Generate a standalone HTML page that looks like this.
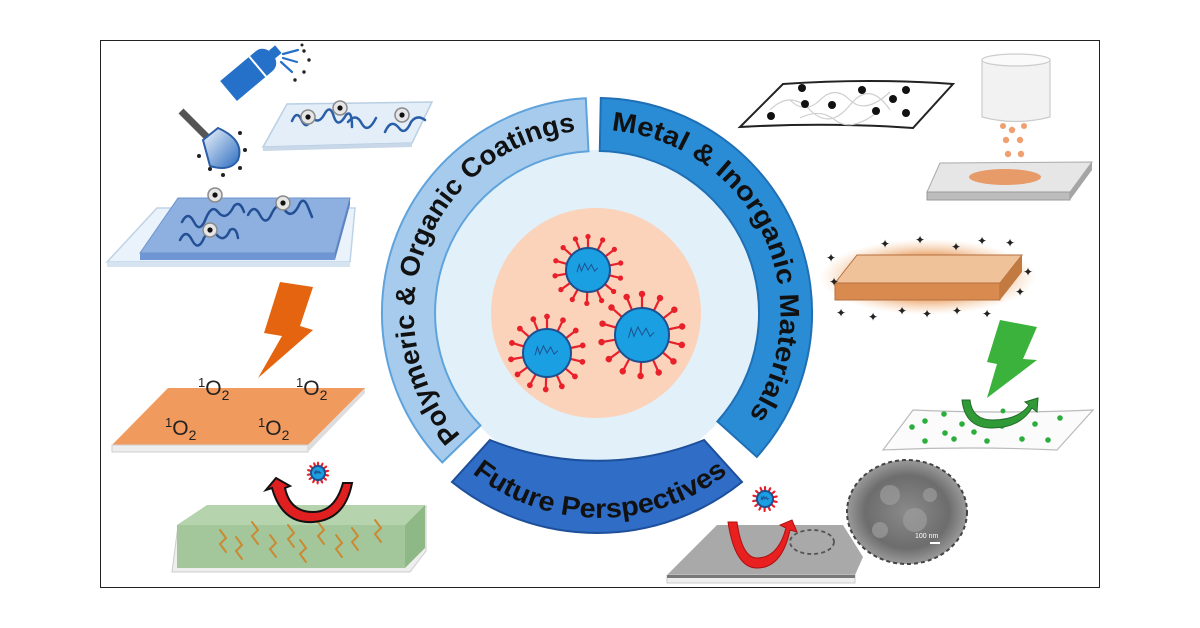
<!DOCTYPE html>
<html><head><meta charset="utf-8"><style>
html,body{margin:0;padding:0;background:#fff;}
svg{display:block;}
text{font-family:"Liberation Sans",Arial,sans-serif;}
</style></head><body>
<svg width="1200" height="628" viewBox="0 0 1200 628" xmlns="http://www.w3.org/2000/svg">
<defs>
  <g id="sp"><line x1="0" y1="-1" x2="0" y2="-1.5" stroke="#e8202a" stroke-width="2.2" vector-effect="non-scaling-stroke"/><circle cx="0" cy="-1.52" r="0.12" fill="#e8202a"/></g>
  <g id="virus">
    <use href="#sp"/><use href="#sp" transform="rotate(26)"/><use href="#sp" transform="rotate(52)"/><use href="#sp" transform="rotate(78)"/><use href="#sp" transform="rotate(104)"/><use href="#sp" transform="rotate(130)"/><use href="#sp" transform="rotate(156)"/><use href="#sp" transform="rotate(182)"/><use href="#sp" transform="rotate(208)"/><use href="#sp" transform="rotate(234)"/><use href="#sp" transform="rotate(260)"/><use href="#sp" transform="rotate(286)"/><use href="#sp" transform="rotate(312)"/><use href="#sp" transform="rotate(338)"/>
    <circle r="1" fill="#1aa0e2" stroke="#1f4f8f" stroke-width="2" vector-effect="non-scaling-stroke"/>
    <path d="M-0.5,0.1 L-0.4,-0.25 L-0.3,0.05 L-0.15,-0.3 L0,0 L0.15,-0.25 L0.3,0.05 L0.45,-0.1" fill="none" stroke="#1f4f8f" stroke-width="1" vector-effect="non-scaling-stroke"/>
  </g>
  <g id="dotc"><circle r="7" fill="#e6e6e6" stroke="#8a8a8a" stroke-width="1.5"/><circle r="2.6" fill="#111"/></g>
  <radialGradient id="glow" cx="0.5" cy="0.5" r="0.5"><stop offset="0.6" stop-color="#e89a5a" stop-opacity="0.8"/><stop offset="1" stop-color="#f5c9a0" stop-opacity="0"/></radialGradient>
  <radialGradient id="sem" cx="0.5" cy="0.5" r="0.5"><stop offset="0" stop-color="#8a8a8a"/><stop offset="0.7" stop-color="#6d6d6d"/><stop offset="1" stop-color="#9a9a9a"/></radialGradient>
  <linearGradient id="brush" x1="0" y1="0" x2="1" y2="1"><stop offset="0" stop-color="#f4f8fc"/><stop offset="1" stop-color="#2a6cc0"/></linearGradient>
  <path id="tp1" d="M460.8,435.4 A183,183 0 0 1 581,130.7" fill="none"/>
  <path id="tp2" d="M611.3,130.6 A183,183 0 0 1 745.5,420.5" fill="none"/>
  <path id="tp3" d="M466,468 A205,205 0 0 0 734,468" fill="none"/>
</defs>

<rect x="100.5" y="40.5" width="999" height="547" fill="none" stroke="#222" stroke-width="1"/>

<!-- center -->
<circle cx="597" cy="313" r="163" fill="#e2f0fa"/>
<circle cx="596" cy="313" r="105" fill="#fbd2ba"/>
<use href="#virus" transform="translate(588,270) scale(22)"/>
<use href="#virus" transform="translate(547,353) scale(24)"/>
<use href="#virus" transform="translate(642,335) scale(27)"/>

<path d="M442.3,462.4 A215,215 0 0 1 585.8,98.3 L588.5,151.2 A162,162 0 0 0 480.5,425.5 Z" fill="#a7cbec" stroke="#5fa3dc" stroke-width="2"/>
<path d="M600.8,98 A215,215 0 0 1 756.8,456.9 L717.4,421.4 A162,162 0 0 0 599.8,151 Z" fill="#2b8cd6" stroke="#1f6fb5" stroke-width="2"/>
<path d="M452,482 A231.6,231.6 0 0 0 742,482 L704,440 A286,286 0 0 1 490,440 Z" fill="#2f6dc7" stroke="#1d4f9a" stroke-width="2"/>

<text font-size="27" font-weight="bold" fill="#111"><textPath href="#tp1" textLength="400" lengthAdjust="spacingAndGlyphs">Polymeric &amp; Organic Coatings</textPath></text>
<text font-size="27" font-weight="bold" fill="#111"><textPath href="#tp2" textLength="382" lengthAdjust="spacingAndGlyphs">Metal &amp; Inorganic Materials</textPath></text>
<text font-size="27" font-weight="bold" fill="#111"><textPath href="#tp3" startOffset="8" textLength="276" lengthAdjust="spacingAndGlyphs">Future Perspectives</textPath></text>

<!-- left top: spray can -->
<g transform="translate(250,73) rotate(-40)">
  <path d="M-28,-13 L18,-13 Q28,-13 30,0 Q28,13 18,13 L-28,13 Z" fill="#2570c8"/>
  <line x1="10" y1="-13" x2="10" y2="13" stroke="#fff" stroke-width="2"/>
  <rect x="29" y="-5" width="8" height="10" fill="#2570c8"/>
</g>
<g stroke="#2570c8" stroke-width="2.2" stroke-linecap="round">
  <line x1="283" y1="54" x2="298" y2="50"/><line x1="283" y1="58" x2="297" y2="62"/><line x1="281" y1="62" x2="292" y2="72"/>
</g>
<g fill="#222"><circle cx="304" cy="51" r="1.7"/><circle cx="309" cy="60" r="1.7"/><circle cx="304" cy="72" r="1.7"/><circle cx="295" cy="80" r="1.7"/><circle cx="302" cy="45" r="1.5"/></g>
<!-- brush -->
<line x1="181" y1="111" x2="211" y2="141" stroke="#555" stroke-width="7"/>
<path d="M203,140 L218,128 Q245,140 238,160 Q230,172 210,166 Z" fill="url(#brush)" stroke="#2a5fa8" stroke-width="2"/>
<g fill="#222"><circle cx="199" cy="156" r="2"/><circle cx="210" cy="169" r="2"/><circle cx="223" cy="175" r="2"/><circle cx="240" cy="168" r="2"/><circle cx="245" cy="150" r="2"/><circle cx="240" cy="133" r="2"/></g>
<!-- top slide -->
<path d="M263,147 L287,104 L432,102 L412,143 Z" fill="#e4eef9" stroke="#b9cfe3" stroke-width="1.5"/>
<path d="M263,147 L412,143 L412,147 L263,151 Z" fill="#c8d8e8"/>
<g fill="none" stroke="#2a5fa8" stroke-width="2.5" stroke-linecap="round">
  <path d="M292,121 q5,-12 10,0 q5,10 10,-4 q6,8 12,-2 q6,-12 10,2 q4,12 12,-2 q6,-6 6,12"/>
  <path d="M348,122 q8,-10 14,2 q6,10 14,-6"/>
  <path d="M385,132 q6,-14 14,-4 q6,8 12,-6 q6,-8 14,-2"/>
</g>
<use href="#dotc" transform="translate(308,117)"/>
<use href="#dotc" transform="translate(340,108)"/>
<use href="#dotc" transform="translate(402,115)"/>
<!-- bottom slide -->
<path d="M107,262 L157,208 L355,208 L350,262 Z" fill="#eaf2fb" stroke="#bfd3e6" stroke-width="1.5"/>
<path d="M107,262 L350,262 L350,267 L107,267 Z" fill="#d6e3f0"/>
<path d="M140,253 L178,198 L350,198 L335,253 Z" fill="#8eb0e0" stroke="#6d93cc" stroke-width="1"/>
<path d="M140,253 L335,253 L335,260 L140,260 Z" fill="#6f96d2"/>
<path d="M335,253 L350,198 L350,205 L335,260 Z" fill="#5c84c2"/>
<g fill="none" stroke="#234f94" stroke-width="2.5" stroke-linecap="round">
  <path d="M182,222 q6,-12 12,0 q6,12 12,-4 q6,-14 12,-6 q8,10 16,-6 q6,-6 10,6"/>
  <path d="M248,215 q6,-12 12,0 q6,12 12,-2 q6,-12 12,-4 q8,12 16,-6 q4,-6 8,4 l4,10"/>
  <path d="M180,240 q6,-12 12,0 q6,12 12,-2 q6,-12 12,-4 q8,10 14,-4 q6,-4 8,8"/>
</g>
<use href="#dotc" transform="translate(215,195)"/>
<use href="#dotc" transform="translate(283,203)"/>
<use href="#dotc" transform="translate(210,230)"/>

<!-- left middle: orange slab -->
<polygon points="280,282 313,287 300,326 313,330 258,378 282,336 264,333" fill="#e5640f"/>
<path d="M112,445 L168,388 L365,388 L308,445 Z" fill="#f19a5e"/>
<path d="M112,445 L308,445 L308,452 L112,452 Z" fill="#eeeeee" stroke="#cfcfcf" stroke-width="1"/>
<path d="M308,445 L365,388 L365,393 L308,452 Z" fill="#dddddd"/>
<g font-size="21" fill="#222">
  <text x="198" y="395"><tspan font-size="13" dy="-8">1</tspan><tspan dy="8">O</tspan><tspan font-size="14" dy="5">2</tspan></text>
  <text x="296" y="395"><tspan font-size="13" dy="-8">1</tspan><tspan dy="8">O</tspan><tspan font-size="14" dy="5">2</tspan></text>
  <text x="165" y="435"><tspan font-size="13" dy="-8">1</tspan><tspan dy="8">O</tspan><tspan font-size="14" dy="5">2</tspan></text>
  <text x="258" y="435"><tspan font-size="13" dy="-8">1</tspan><tspan dy="8">O</tspan><tspan font-size="14" dy="5">2</tspan></text>
</g>

<!-- left bottom: green slab -->
<path d="M172,572 L178,525 L410,525 L426,506 L426,551 L410,572 Z" fill="#eeeeee" stroke="#cccccc" stroke-width="1"/>
<path d="M177,525 L207,505 L425,505 L405,525 Z" fill="#b5d3ad"/>
<rect x="177" y="525" width="228" height="43" fill="#a3c79b"/>
<path d="M405,525 L425,505 L425,548 L405,568 Z" fill="#8fb887"/>
<g fill="none" stroke="#c98a33" stroke-width="2" stroke-linecap="round">
  <path d="M220,530 l6,8 l-6,6 l6,8"/><path d="M236,537 l6,8 l-6,6 l6,8"/><path d="M252,522 l6,8 l-6,6 l6,8"/><path d="M270,535 l6,8 l-6,6 l6,8"/><path d="M288,525 l6,8 l-6,6 l6,8"/><path d="M300,540 l6,8 l-6,6 l6,8"/><path d="M318,522 l6,8 l-6,6 l6,8"/><path d="M336,535 l6,8 l-6,6 l6,8"/><path d="M352,528 l6,8 l-6,6 l6,8"/><path d="M375,520 l6,8 l-6,6 l6,8"/>
</g>
<path d="M272,488 Q282,524 313,522 Q345,520 352,483 L343,483 Q335,512 313,512 Q290,512 285,488 L290,486 L276,478 L266,490 Z" fill="#e02020" stroke="#111" stroke-width="2"/>
<use href="#virus" transform="translate(318,473) scale(7)"/>

<!-- right top: net sheet -->
<path d="M740,127 L783,84 Q870,78 953,84 L913,128 Q830,122 740,127 Z" fill="#fff" stroke="#222" stroke-width="2"/>
<g fill="none" stroke="#cfcfcf" stroke-width="1.2">
  <path d="M770,110 q20,-20 40,0 t40,-5 t40,5"/><path d="M790,100 q15,15 30,0 t30,0 t40,-8"/><path d="M800,118 q20,-10 35,2 t40,-6"/>
</g>
<g fill="#111"><circle cx="771" cy="116" r="4"/><circle cx="802" cy="88" r="4"/><circle cx="805" cy="104" r="4"/><circle cx="832" cy="105" r="4"/><circle cx="862" cy="90" r="4"/><circle cx="876" cy="111" r="4"/><circle cx="893" cy="99" r="4"/><circle cx="906" cy="90" r="4"/><circle cx="906" cy="113" r="4"/></g>
<!-- cylinder -->
<path d="M982,60 L982,117 Q1016,126 1050,117 L1050,60 Z" fill="#f2f2f2" stroke="#ccc" stroke-width="1.2"/>
<ellipse cx="1016" cy="60" rx="34" ry="6" fill="#fafafa" stroke="#ccc" stroke-width="1.2"/>
<g fill="#f0a070"><circle cx="1003" cy="126" r="3"/><circle cx="1012" cy="130" r="3.2"/><circle cx="1024" cy="126" r="3"/><circle cx="1006" cy="140" r="3.2"/><circle cx="1020" cy="140" r="3.2"/><circle cx="1008" cy="154" r="3.2"/><circle cx="1021" cy="154" r="3.2"/><circle cx="1014" cy="165" r="3.2"/></g>
<path d="M927,192 L940,163 L1092,162 L1070,192 Z" fill="#e6e6e6" stroke="#aaa" stroke-width="1"/>
<path d="M927,192 L1070,192 L1070,200 L927,200 Z" fill="#bdbdbd" stroke="#999" stroke-width="1"/>
<path d="M1070,192 L1092,162 L1092,170 L1070,200 Z" fill="#a5a5a5"/>
<ellipse cx="1005" cy="177" rx="36" ry="8" fill="#e7925a" opacity="0.9"/>

<!-- right middle: copper slab with glow -->
<ellipse cx="928" cy="277" rx="108" ry="38" fill="url(#glow)"/>
<path d="M835,283 L857,255 L1022,255 L1000,283 Z" fill="#f0c29a" stroke="#b57040" stroke-width="1"/>
<path d="M835,283 L1000,283 L1000,300 L835,300 Z" fill="#d98a4e" stroke="#b57040" stroke-width="1"/>
<path d="M1000,283 L1022,255 L1022,272 L1000,300 Z" fill="#c27a40"/>
<g fill="#222" font-size="12">
  <text x="880" y="248">✦</text><text x="915" y="244">✦</text><text x="951" y="251">✦</text><text x="977" y="245">✦</text><text x="1005" y="247">✦</text><text x="826" y="262">✦</text><text x="829" y="286">✦</text><text x="1023" y="276">✦</text><text x="1015" y="296">✦</text>
  <text x="836" y="317">✦</text><text x="868" y="321">✦</text><text x="897" y="315">✦</text><text x="922" y="318">✦</text><text x="952" y="315">✦</text><text x="982" y="318">✦</text>
</g>
<!-- green lightning + sheet -->
<polygon points="1000,320 1037,327 1023,359 1037,360 987,398 997,364 987,362" fill="#3bb23b"/>
<path d="M883,450 L913,410 Q1000,414 1093,410 L1057,450 Q970,446 883,450 Z" fill="#fbfbfb" stroke="#bbb" stroke-width="1.2"/>
<g fill="#2cae3c"><circle cx="912" cy="427" r="2.8"/><circle cx="925" cy="421" r="2.8"/><circle cx="944" cy="414" r="2.8"/><circle cx="962" cy="424" r="2.8"/><circle cx="945" cy="433" r="2.8"/><circle cx="974" cy="432" r="2.8"/><circle cx="987" cy="441" r="2.8"/><circle cx="925" cy="441" r="2.8"/><circle cx="954" cy="439" r="2.8"/><circle cx="1002" cy="426" r="2.8"/><circle cx="1022" cy="439" r="2.8"/><circle cx="1035" cy="424" r="2.8"/><circle cx="1048" cy="440" r="2.8"/><circle cx="1060" cy="418" r="2.8"/><circle cx="1003" cy="411" r="2.5"/></g>
<path d="M962,400 Q965,428 992,428 Q1020,428 1032,408 L1037,412 L1038,398 L1025,402 L1029,405 Q1018,420 993,420 Q972,420 970,400 Z" fill="#2f9a36" stroke="#226b28" stroke-width="1"/>

<!-- right bottom: gray slab + SEM -->
<path d="M667,575 L717,525 L843,525 L863,557 L855,575 Z" fill="#a9a9a9"/>
<path d="M667,575 L855,575 L855,583 L667,583 Z" fill="#eeeeee" stroke="#ccc" stroke-width="1"/>
<path d="M667,575 L855,575 L855,578 L667,578 Z" fill="#777"/>
<ellipse cx="812" cy="542" rx="22" ry="12" fill="none" stroke="#555" stroke-width="1.8" stroke-dasharray="4,3"/>
<ellipse cx="907" cy="512" rx="60" ry="52" fill="url(#sem)" stroke="#444" stroke-width="2" stroke-dasharray="4,3"/>
<g fill="#9c9c9c" opacity="0.7"><circle cx="890" cy="495" r="10"/><circle cx="915" cy="520" r="12"/><circle cx="880" cy="530" r="8"/><circle cx="930" cy="495" r="7"/></g>
<text x="915" y="538" font-size="7" fill="#fff">100 nm</text>
<rect x="930" y="542" width="10" height="2" fill="#fff"/>
<path d="M728,522 Q735,568 757,568 Q782,568 790,530 L797,532 L792,520 L780,525 L786,528 Q778,558 757,558 Q742,558 737,522 Z" fill="#e82020" stroke="#b01010" stroke-width="1"/>
<use href="#virus" transform="translate(765,499) scale(8)"/>
</svg>
</body></html>
